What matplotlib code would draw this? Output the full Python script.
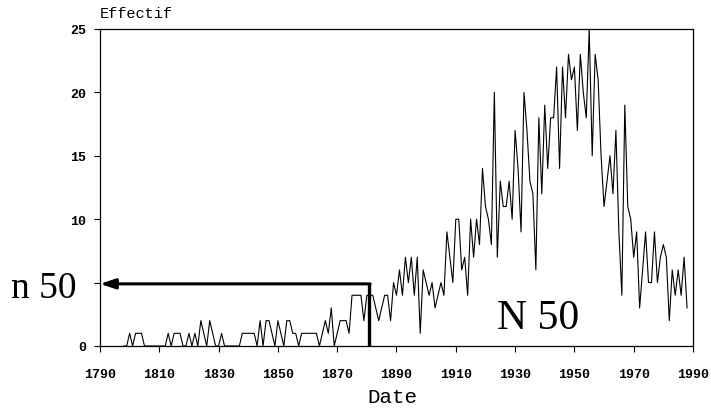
import matplotlib.pyplot as plt

# yearly counts ("Effectif")
years = list(range(1798, 1989))
counts = [
    0, 0, 1, 0, 1, 1, 1, 0, 0, 0,            # 1798-1807
    0, 0, 0, 0, 0, 1, 0, 1, 1, 1,            # 1808-1817
    0, 0, 1, 0, 1, 0, 2, 1, 0, 2,            # 1818-1827
    1, 0, 0, 1, 0, 0, 0, 0, 0, 0,            # 1828-1837
    1, 1, 1, 1, 1, 0, 2, 0, 2, 2,            # 1838-1847
    1, 0, 2, 1, 0, 2, 2, 1, 1, 0,            # 1848-1857
    1, 1, 1, 1, 1, 1, 0, 1, 2, 1,            # 1858-1867
    3, 0, 1, 2, 2, 2, 1, 4, 4, 4,            # 1868-1877
    4, 2, 4, 4, 4, 3, 2, 3, 4, 4,            # 1878-1887
    2, 5, 4, 6, 4, 7, 5, 7, 4, 7,            # 1888-1897
    1, 6, 5, 4, 5, 3, 4, 5, 4, 9,            # 1898-1907
    7, 5, 10, 10, 6, 7, 4, 10, 7, 10,        # 1908-1917
    8, 14, 11, 10, 8, 20, 7, 13, 11, 11,     # 1918-1927
    13, 10, 17, 14, 9, 20, 17, 13, 12, 6,    # 1928-1937
    18, 12, 19, 14, 18, 18, 22, 14, 22, 18,  # 1938-1947
    23, 21, 22, 17, 23, 20, 18, 25, 15, 23,  # 1948-1957
    21, 15, 11, 13, 15, 12, 17, 9, 4, 19,    # 1958-1967
    11, 10, 7, 9, 3, 6, 9, 5, 5, 9,          # 1968-1977
    5, 7, 8, 7, 2, 6, 4, 6, 4, 7,            # 1978-1987
    3,                                       # 1988
]

xticks = list(range(1790, 1991, 20))
yticks = [0, 5, 10, 15, 20, 25]
ytick_labels = ['0', '', '10', '15', '20', '25']  # "n 50" stands in for 5

# N 50 marker: year and the level n 50 read on the arrow
n50_year = 1880.7
n50_level = 4.9

mono = 'Liberation Mono'
serif = 'Liberation Serif'

fig = plt.figure(figsize=(7.11, 4.14), dpi=100)
ax = fig.add_axes([100 / 711, 1 - 347 / 414, 593 / 711, 317 / 414])

ax.plot(years, counts, color='black', lw=0.8)

# thick arrow: up from the date axis, then left to the count axis
ax.plot([n50_year, n50_year], [0, n50_level], color='black', lw=2.4,
        solid_capstyle='butt')
ax.annotate('', xy=(1790, n50_level), xytext=(n50_year + 0.4, n50_level),
            arrowprops=dict(arrowstyle='-|>,head_length=0.9,head_width=0.3',
                            color='black', lw=2.2, shrinkA=0, shrinkB=0))

ax.set_xlim(1790, 1990)
ax.set_ylim(0, 25)
ax.set_xticks(xticks)
ax.set_yticks(yticks, ytick_labels)
ax.tick_params(direction='out', length=4, width=0.8, pad=12)
ax.tick_params(axis='y', pad=6)
for lab in ax.get_xticklabels() + ax.get_yticklabels():
    lab.set_fontfamily(mono)
    lab.set_fontsize(9.5)
    lab.set_fontweight('bold')
for s in ax.spines.values():
    s.set_linewidth(0.9)

fig.text(100 / 711, 1 - 14 / 414, 'Effectif', family=mono, fontsize=11,
         ha='left', va='center')
fig.text(392 / 711, 1 - 398 / 414, 'Date', family=mono, fontsize=15,
         ha='center', va='center')
fig.text(44 / 711, 1 - 289 / 414, 'n 50', family=serif, fontsize=27,
         ha='center', va='center')
fig.text(538 / 711, 1 - 319 / 414, 'N 50', family=serif, fontsize=30,
         ha='center', va='center')

plt.savefig('out.png', dpi=100)
